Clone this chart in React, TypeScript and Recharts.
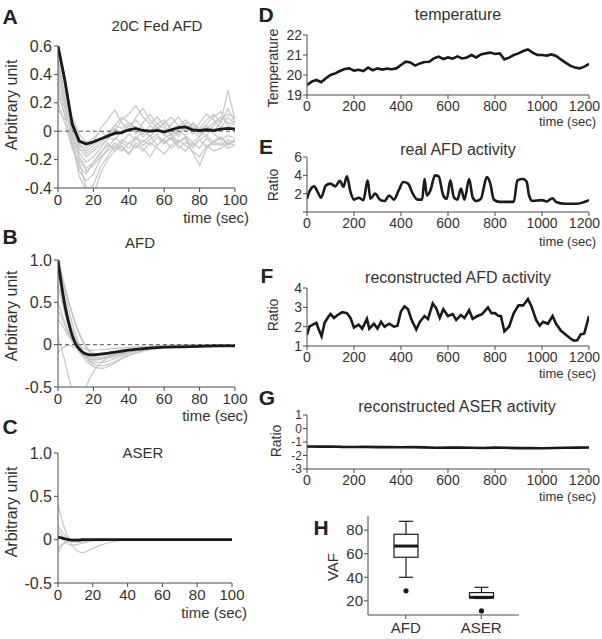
import React from "react";
import { LineChart, Line, XAxis, YAxis, ReferenceLine, ComposedChart, Bar } from "recharts";

// ---- panel A: 20C fed AFD kernels ----
const TIME_A = [0, 4, 8, 12, 16, 20, 24, 28, 32, 36, 40, 44, 48, 52, 56, 60, 64, 68, 72, 76, 80, 84, 88, 92, 96, 100];
const MEAN_A = [0.6, 0.35, 0.05, -0.07, -0.09, -0.075, -0.055, -0.035, -0.015, -0.01, 0.01, 0.02, 0.005, 0.0, 0.005, -0.005, 0.01, 0.025, 0.03, 0.01, 0.005, 0.01, 0.005, 0.015, 0.02, 0.015];
const GRAY_A = [
  [0.6, 0.38, 0.05, -0.1, -0.14, -0.1, -0.06, -0.02, 0.04, 0.02, 0.06, 0.03, -0.04, 0.0, 0.05, 0.02, -0.03, 0.01, 0.06, 0.02, -0.02, 0.04, 0.0, 0.06, 0.29, 0.08],
  [0.55, 0.3, 0.0, -0.18, -0.26, -0.22, -0.15, -0.1, -0.12, -0.06, -0.09, -0.04, -0.08, -0.03, -0.1, -0.05, -0.02, -0.08, -0.04, -0.12, -0.06, -0.03, -0.08, -0.05, -0.1, -0.07],
  [0.5, 0.25, -0.05, -0.28, -0.35, -0.3, -0.2, -0.12, -0.05, -0.08, -0.02, -0.06, 0.02, -0.04, 0.03, -0.02, -0.06, 0.0, -0.03, -0.08, -0.04, 0.02, -0.02, -0.06, -0.03, -0.05],
  [0.45, 0.2, 0.08, -0.05, -0.12, -0.08, 0.02, 0.08, 0.15, 0.06, 0.0, 0.1, 0.16, 0.08, 0.02, -0.03, 0.05, 0.1, 0.03, -0.02, 0.06, 0.12, 0.08, 0.02, 0.1, 0.05],
  [0.4, 0.18, -0.08, -0.32, -0.42, -0.38, -0.25, -0.18, -0.1, -0.14, -0.08, -0.12, -0.06, -0.1, -0.04, -0.09, -0.05, -0.12, -0.08, -0.1, -0.06, -0.11, -0.07, -0.04, -0.09, -0.06],
  [0.35, 0.15, 0.05, -0.15, -0.22, -0.18, -0.12, -0.05, 0.0, 0.08, 0.12, 0.18, 0.1, 0.05, 0.1, 0.04, -0.02, 0.03, 0.08, 0.03, 0.0, 0.05, 0.1, 0.14, 0.04, 0.02],
  [0.3, 0.1, -0.1, -0.25, -0.3, -0.22, -0.16, -0.08, -0.14, -0.1, -0.16, -0.08, -0.12, -0.18, -0.1, -0.06, -0.12, -0.08, -0.05, -0.15, -0.24, -0.12, -0.08, -0.1, -0.06, -0.08],
  [0.25, 0.12, 0.02, -0.08, -0.16, -0.12, -0.08, -0.04, -0.06, 0.0, 0.04, -0.02, 0.06, 0.12, 0.05, 0.08, 0.02, -0.04, 0.02, 0.05, 0.0, -0.03, 0.04, 0.08, 0.12, 0.1],
  [0.2, 0.05, -0.12, -0.22, -0.4, -0.45, -0.3, -0.2, -0.14, -0.08, -0.12, -0.05, -0.1, -0.06, -0.02, -0.08, -0.04, -0.1, -0.14, -0.08, -0.12, -0.05, -0.1, -0.08, -0.12, -0.1],
  [0.15, 0.08, 0.1, -0.02, -0.08, -0.05, 0.0, -0.04, 0.04, 0.1, 0.06, 0.02, -0.02, 0.04, 0.0, 0.06, 0.1, 0.04, 0.0, 0.06, 0.02, 0.08, 0.12, 0.06, 0.16, 0.06],
  [0.58, 0.32, -0.02, -0.2, -0.28, -0.24, -0.18, -0.14, -0.08, -0.12, -0.16, -0.1, -0.14, -0.08, -0.12, -0.16, -0.1, -0.06, -0.1, -0.14, -0.18, -0.1, -0.14, -0.12, -0.08, -0.1],
  [0.48, 0.22, 0.04, -0.12, -0.18, -0.14, -0.1, -0.06, 0.02, -0.02, 0.04, 0.08, 0.02, -0.04, 0.02, 0.06, 0.02, -0.02, 0.04, 0.0, -0.04, 0.02, 0.06, 0.1, 0.06, 0.04],
];

// ---- panels B and C: fitted AFD / ASER kernels ----
const TIME_BC = [0, 2, 4, 6, 8, 10, 12, 14, 16, 18, 20, 25, 30, 35, 40, 50, 60, 70, 80, 90, 100];
const MEAN_B = [1.0, 0.7, 0.45, 0.26, 0.11, 0.01, -0.05, -0.09, -0.11, -0.12, -0.12, -0.11, -0.095, -0.08, -0.065, -0.045, -0.03, -0.025, -0.02, -0.015, -0.015];
const GRAY_B = [
  [1.0, 0.7, 0.45, 0.27, 0.14, 0.05, -0.01, -0.04, -0.06, -0.065, -0.065, -0.06, -0.05, -0.04, -0.03, -0.02, -0.01, -0.005, 0, 0, 0],
  [1.0, 0.8, 0.6, 0.42, 0.26, 0.12, 0.01, -0.08, -0.15, -0.2, -0.23, -0.25, -0.22, -0.17, -0.12, -0.06, -0.03, -0.015, -0.01, 0, 0],
  [0.98, 0.75, 0.52, 0.34, 0.19, 0.07, -0.03, -0.1, -0.14, -0.17, -0.18, -0.17, -0.14, -0.11, -0.08, -0.04, -0.02, -0.01, 0, 0, 0],
  [0.95, 0.82, 0.66, 0.5, 0.36, 0.23, 0.12, 0.03, -0.04, -0.09, -0.13, -0.16, -0.15, -0.12, -0.09, -0.05, -0.025, -0.01, 0, 0, 0],
  [0.7, 0.52, 0.36, 0.22, 0.11, 0.02, -0.05, -0.1, -0.13, -0.15, -0.16, -0.15, -0.12, -0.09, -0.07, -0.04, -0.02, -0.01, 0, 0, 0],
  [0.5, 0.38, 0.26, 0.15, 0.06, -0.02, -0.08, -0.12, -0.15, -0.17, -0.18, -0.16, -0.13, -0.1, -0.07, -0.035, -0.02, -0.01, 0, 0, 0],
  [0.4, 0.32, 0.22, 0.12, 0.04, -0.03, -0.09, -0.14, -0.19, -0.23, -0.26, -0.28, -0.24, -0.18, -0.13, -0.07, -0.035, -0.015, -0.01, 0, 0],
  [0.3, 0.24, 0.17, 0.1, 0.04, -0.01, -0.05, -0.08, -0.1, -0.11, -0.12, -0.11, -0.09, -0.07, -0.05, -0.03, -0.015, -0.01, 0, 0, 0],
  [0.08, -0.05, -0.2, -0.38, -0.55, -0.7, -0.8, -0.7, -0.5, -0.4, -0.32, -0.2, -0.14, -0.1, -0.07, -0.04, -0.02, -0.01, 0, 0, 0],
  [-0.1, -0.05, -0.02, -0.01, -0.02, -0.04, -0.06, -0.08, -0.1, -0.11, -0.12, -0.12, -0.1, -0.08, -0.06, -0.035, -0.02, -0.01, 0, 0, 0],
  [1.0, 0.85, 0.68, 0.52, 0.38, 0.25, 0.14, 0.05, -0.02, -0.07, -0.1, -0.12, -0.11, -0.09, -0.07, -0.04, -0.02, -0.01, 0, 0, 0],
  [0.85, 0.62, 0.43, 0.27, 0.14, 0.04, -0.04, -0.1, -0.15, -0.19, -0.21, -0.21, -0.18, -0.14, -0.1, -0.05, -0.025, -0.01, 0, 0, 0],
  [0.9, 0.6, 0.38, 0.22, 0.1, 0.01, -0.06, -0.1, -0.12, -0.13, -0.13, -0.12, -0.1, -0.08, -0.06, -0.03, -0.015, -0.01, 0, 0, 0],
];
const MEAN_C = [0.03, 0.02, 0.01, 0.0, -0.005, -0.005, -0.005, 0, 0, 0, 0, 0, 0, 0, 0, 0, 0, 0, 0, 0, 0];
const GRAY_C = [
  [0.4, 0.25, 0.12, 0.02, -0.06, -0.11, -0.14, -0.15, -0.14, -0.12, -0.1, -0.06, -0.03, -0.01, 0, 0, 0, 0, 0, 0, 0],
  [0.15, 0.1, 0.05, 0.02, 0.0, -0.01, -0.02, -0.02, -0.015, -0.01, -0.01, 0, 0, 0, 0, 0, 0, 0, 0, 0, 0],
  [0.1, 0.06, 0.02, 0.0, -0.02, -0.03, -0.03, -0.02, -0.02, -0.01, -0.01, 0, 0, 0, 0, 0, 0, 0, 0, 0, 0],
  [-0.1, -0.06, -0.03, -0.01, 0.0, 0.01, 0.01, 0.01, 0, 0, 0, 0, 0, 0, 0, 0, 0, 0, 0, 0, 0],
  [-0.15, -0.08, -0.04, -0.02, -0.01, 0, 0, 0, 0, 0, 0, 0, 0, 0, 0, 0, 0, 0, 0, 0, 0],
  [0.05, 0.02, -0.02, -0.05, -0.06, -0.06, -0.05, -0.04, -0.03, -0.02, -0.015, -0.01, 0, 0, 0, 0, 0, 0, 0, 0, 0],
];

// ---- panel D: temperature ----
const TEMP_T = [0, 20, 40, 60, 80, 100, 120, 140, 160, 180, 200, 220, 240, 260, 280, 300, 320, 340, 360, 380, 400, 420, 440, 460, 480, 500, 520, 540, 560, 580, 600, 620, 640, 660, 680, 700, 720, 740, 760, 780, 800, 820, 840, 860, 880, 900, 920, 940, 960, 980, 1000, 1020, 1040, 1060, 1080, 1100, 1120, 1140, 1160, 1180, 1200];
const TEMP_V = [19.5, 19.67, 19.75, 19.64, 19.83, 20.0, 20.08, 20.2, 20.3, 20.33, 20.22, 20.26, 20.2, 20.37, 20.24, 20.33, 20.27, 20.32, 20.29, 20.33, 20.5, 20.67, 20.63, 20.47, 20.58, 20.65, 20.66, 20.83, 20.92, 20.8, 20.88, 20.82, 20.93, 20.83, 20.88, 21.0, 20.88, 21.03, 21.08, 21.12, 21.05, 21.08, 20.78, 20.87, 21.0, 21.08, 21.2, 21.28, 21.12, 21.0, 21.0, 20.97, 21.03, 20.95, 20.78, 20.62, 20.47, 20.37, 20.33, 20.42, 20.55];

// ---- panel E: real AFD activity ----
const REAL_T = [0, 10, 30, 45, 60, 80, 100, 120, 140, 155, 170, 185, 200, 220, 240, 258, 270, 290, 310, 330, 350, 370, 390, 410, 430, 450, 470, 490, 500, 510, 525, 545, 560, 580, 595, 610, 625, 640, 655, 670, 690, 705, 720, 740, 765, 780, 795, 820, 850, 880, 895, 920, 935, 945, 960, 1000, 1020, 1045, 1060, 1100, 1150, 1180, 1200];
const REAL_V = [1.45, 2.2, 2.8, 2.2, 1.56, 2.9, 3.1, 2.8, 3.4, 2.75, 3.9, 2.2, 1.35, 1.55, 1.3, 3.45, 1.45, 2.0, 1.35, 1.2, 1.8, 1.35, 2.35, 3.27, 3.1, 2.0, 1.35, 1.35, 3.6, 1.8, 2.35, 4.0, 3.9, 1.8, 1.45, 3.45, 1.6, 1.35, 2.55, 1.35, 3.6, 1.6, 1.2, 1.45, 3.8, 3.1, 1.35, 1.1, 1.1, 1.1, 3.45, 3.6, 3.27, 1.8, 1.2, 1.3, 1.15, 1.5, 1.1, 0.9, 0.9, 1.1, 1.3];

// ---- panel F: reconstructed AFD activity ----
const RECON_T = [0, 10, 25, 40, 50, 62, 75, 90, 100, 115, 130, 150, 170, 185, 200, 220, 235, 255, 265, 285, 300, 315, 330, 350, 370, 385, 400, 415, 430, 445, 465, 480, 500, 515, 535, 550, 565, 580, 600, 620, 635, 655, 670, 690, 705, 725, 745, 770, 785, 800, 815, 825, 840, 860, 880, 900, 920, 940, 955, 975, 990, 1005, 1025, 1045, 1060, 1080, 1100, 1120, 1135, 1150, 1165, 1180, 1200];
const RECON_V = [1.57, 2.0, 2.1, 2.2, 1.85, 1.5, 2.2, 2.5, 2.65, 2.45, 2.6, 2.75, 2.7, 2.45, 1.95, 2.1, 1.9, 2.4, 1.9, 2.15, 1.9, 2.25, 2.0, 2.15, 2.0, 2.05, 2.8, 3.05, 2.9, 2.35, 1.85, 2.25, 2.55, 2.4, 3.2, 2.95, 2.45, 2.9, 2.55, 2.65, 2.35, 2.6, 2.45, 2.85, 2.4, 2.55, 2.65, 3.0, 2.7, 2.7, 2.55, 2.55, 1.75, 2.0, 2.7, 3.1, 3.1, 3.43, 3.05, 2.35, 2.05, 2.25, 2.15, 2.55, 2.15, 1.8, 1.6, 1.4, 1.28, 1.3, 1.6, 1.65, 2.55];

// ---- panel G: reconstructed ASER activity ----
const ASER_T = [0, 50, 100, 150, 200, 250, 300, 350, 400, 450, 500, 550, 600, 650, 700, 750, 800, 850, 900, 950, 1000, 1050, 1100, 1150, 1200];
const ASER_V = [-1.33, -1.34, -1.33, -1.36, -1.37, -1.36, -1.38, -1.37, -1.39, -1.38, -1.4, -1.43, -1.42, -1.41, -1.43, -1.44, -1.42, -1.43, -1.45, -1.44, -1.46, -1.44, -1.43, -1.42, -1.41];

// ---- panel H: VAF box plot ----
const VAF_NAMES = ["AFD", "ASER"];
const VAF_LO = [40, 22];
const VAF_Q1 = [57, 22.5];
const VAF_MED = [66.5, 23];
const VAF_Q3 = [76.5, 27];
const VAF_HI = [87.5, 31.5];
const VAF_OUT = [28.5, 11.5];

const TICKS_SHORT = [0, 20, 40, 60, 80, 100];
const TICKS_LONG = [0, 200, 400, 600, 800, 1000, 1200];

const INK = "#333";
const AX = "#4a4a4a";
const GRAY = "#c6c6c6";
const BLACK = "#1a1a1a";
const FONT = '"Liberation Sans", Arial, Helvetica, sans-serif';

type Rect = { x0: number; y0: number; x1: number; y1: number };
const PT = 8;
const PR = 18;

function place(r: Rect, yw: number, xh: number) {
  return {
    left: r.x0 - yw,
    top: r.y0 - PT,
    width: yw + (r.x1 - r.x0) + PR,
    height: PT + (r.y1 - r.y0) + xh,
  };
}

const fmt1 = (v: number) => (v === 0 ? "0" : v.toFixed(1));

function table(time: number[], mean: number[], gray: number[][]) {
  return time.map((t, i) => {
    const row: Record<string, number> = { t, mean: mean[i] };
    gray.forEach((g, j) => (row["g" + j] = g[i]));
    return row;
  });
}

function series(time: number[], vals: number[]) {
  return time.map((t, i) => ({ t, v: vals[i] }));
}

// last label (1200) sits flush against the right edge, as in the figure
function LongTick(props: any) {
  const { x, y, payload } = props;
  const last = payload.value === 1200;
  return (
    <text x={last ? x + 11 : x} y={y} dy="0.71em" textAnchor={last ? "end" : "middle"} fontSize={14} fill={INK}>
      {payload.value}
    </text>
  );
}

function Kernel({ r, data, nGray, yDomain, yTicks, smooth, dashed }: {
  r: Rect; data: Record<string, number>[]; nGray: number; yDomain: [number, number];
  yTicks: number[]; smooth: boolean; dashed: boolean;
}) {
  const p = place(r, 58, 30);
  const kind = smooth ? "monotone" : "linear";
  return (
    <div style={{ position: "absolute", left: p.left, top: p.top }}>
      <LineChart width={p.width} height={p.height} data={data} margin={{ top: PT, right: PR, bottom: 0, left: 0 }}>
        <XAxis type="number" dataKey="t" domain={[0, 100]} ticks={TICKS_SHORT} interval={0} allowDataOverflow
          height={30} tickSize={4} tickMargin={2} tick={{ fontSize: 15, fill: INK }}
          axisLine={{ stroke: AX }} tickLine={{ stroke: AX }} />
        <YAxis type="number" domain={yDomain} ticks={yTicks} interval={0} allowDataOverflow width={58}
          tickSize={4} tickMargin={2} tickFormatter={fmt1} tick={{ fontSize: 16, fill: INK }}
          axisLine={{ stroke: AX }} tickLine={{ stroke: AX }} />
        {Array.from({ length: nGray }, (_, j) => (
          <Line key={j} type={kind} dataKey={"g" + j} stroke={GRAY} strokeWidth={1.2} dot={false} isAnimationActive={false} />
        ))}
        {dashed && <ReferenceLine y={0} stroke="#555" strokeDasharray="4 3" strokeWidth={1} />}
        <Line type={kind} dataKey="mean" stroke={BLACK} strokeWidth={2.8} dot={false} isAnimationActive={false} />
      </LineChart>
    </div>
  );
}

function Trace({ r, data, yDomain, yTicks, smooth, hideZero, yFont = 14 }: {
  r: Rect; data: { t: number; v: number }[]; yDomain: [number, number]; yTicks: number[];
  smooth: boolean; hideZero?: boolean; yFont?: number;
}) {
  const p = place(r, 40, 26);
  return (
    <div style={{ position: "absolute", left: p.left, top: p.top }}>
      <LineChart width={p.width} height={p.height} data={data} margin={{ top: PT, right: PR, bottom: 0, left: 0 }}>
        <XAxis type="number" dataKey="t" domain={[0, 1200]} ticks={TICKS_LONG} interval={0} allowDataOverflow
          height={26} tickSize={4} tickMargin={2} tick={<LongTick />}
          axisLine={{ stroke: AX }} tickLine={{ stroke: AX }} />
        <YAxis type="number" domain={yDomain} ticks={yTicks} interval={0} allowDataOverflow width={40}
          tickSize={4} tickMargin={1} tick={{ fontSize: yFont, fill: INK }}
          tickFormatter={(v: number) => (hideZero && v === 0 ? "" : String(v))}
          axisLine={{ stroke: AX }} tickLine={{ stroke: AX }} />
        <Line type={smooth ? "monotone" : "linear"} dataKey="v" stroke={BLACK} strokeWidth={2.6} dot={false} isAnimationActive={false} />
      </LineChart>
    </div>
  );
}

function BoxShape(props: any) {
  const { x, y, width, height, payload } = props;
  const top = Math.min(y, y + height);
  const h = Math.abs(height);
  const k = h / (payload.q3 - payload.q1);
  const py = (v: number) => top + (payload.q3 - v) * k;
  const cx = x + width / 2;
  const cap = 7;
  return (
    <g stroke={BLACK} fill="none">
      <line x1={cx} x2={cx} y1={py(payload.hi)} y2={top} strokeWidth={1.2} />
      <line x1={cx} x2={cx} y1={top + h} y2={py(payload.lo)} strokeWidth={1.2} />
      <line x1={cx - cap} x2={cx + cap} y1={py(payload.hi)} y2={py(payload.hi)} strokeWidth={1.2} />
      <line x1={cx - cap} x2={cx + cap} y1={py(payload.lo)} y2={py(payload.lo)} strokeWidth={1.2} />
      <rect x={x} y={top} width={width} height={h} fill="#fff" strokeWidth={1.2} />
      <line x1={x} x2={x + width} y1={py(payload.med)} y2={py(payload.med)} strokeWidth={3} />
      <circle cx={cx} cy={py(payload.out)} r={2.6} fill={BLACK} stroke="none" />
    </g>
  );
}

function Txt({ x, y, text, size = 16, bold = false, rot = false, right = false }: {
  x: number; y: number; text: string; size?: number; bold?: boolean; rot?: boolean; right?: boolean;
}) {
  return (
    <div style={{
      position: "absolute", left: x, top: y, whiteSpace: "nowrap", lineHeight: 1,
      fontSize: size, fontWeight: bold ? 700 : 400, color: bold ? "#222" : INK,
      transform: `translate(${right ? "-100%" : "-50%"},-50%)${rot ? " rotate(-90deg)" : ""}`,
    }}>{text}</div>
  );
}

export default function App() {
  const rowsA = table(TIME_A, MEAN_A, GRAY_A);
  const rowsB = table(TIME_BC, MEAN_B, GRAY_B);
  const rowsC = table(TIME_BC, MEAN_C, GRAY_C);
  const boxes = VAF_NAMES.map((name, i) => ({
    name, lo: VAF_LO[i], q1: VAF_Q1[i], med: VAF_MED[i], q3: VAF_Q3[i], hi: VAF_HI[i], out: VAF_OUT[i],
  }));
  const rH: Rect = { x0: 368, y0: 516, x1: 519, y1: 615 };
  const pH = place(rH, 40, 28);

  return (
    <div style={{ position: "absolute", left: 0, top: 0, width: 602, height: 639, background: "#fff", fontFamily: FONT, overflow: "hidden" }}>
      <Kernel r={{ x0: 58, y0: 46, x1: 235, y1: 188 }} data={rowsA} nGray={GRAY_A.length}
        yDomain={[-0.4, 0.6]} yTicks={[-0.4, -0.2, 0, 0.2, 0.4, 0.6]} smooth={false} dashed />
      <Kernel r={{ x0: 58, y0: 260, x1: 235, y1: 387 }} data={rowsB} nGray={GRAY_B.length}
        yDomain={[-0.5, 1]} yTicks={[-0.5, 0, 0.5, 1]} smooth dashed />
      <Kernel r={{ x0: 58, y0: 453, x1: 232, y1: 583 }} data={rowsC} nGray={GRAY_C.length}
        yDomain={[-0.5, 1]} yTicks={[-0.5, 0, 0.5, 1]} smooth dashed={false} />

      <Trace r={{ x0: 307, y0: 35, x1: 589, y1: 95 }} data={series(TEMP_T, TEMP_V)} yDomain={[19, 22]} yTicks={[19, 20, 21, 22]} smooth={false} />
      <Trace r={{ x0: 307, y0: 157, x1: 589, y1: 212 }} data={series(REAL_T, REAL_V)} yDomain={[0, 6]} yTicks={[0, 2, 4, 6]} smooth hideZero />
      <Trace r={{ x0: 307, y0: 288, x1: 589, y1: 346 }} data={series(RECON_T, RECON_V)} yDomain={[1, 4]} yTicks={[1, 2, 3, 4]} smooth={false} />
      <Trace r={{ x0: 307, y0: 415, x1: 589, y1: 469 }} data={series(ASER_T, ASER_V)} yDomain={[-3, 1]} yTicks={[-3, -2, -1, 0, 1]} smooth={false} yFont={12} />

      <div style={{ position: "absolute", left: pH.left, top: pH.top }}>
        <ComposedChart width={pH.width} height={pH.height} data={boxes} margin={{ top: PT, right: PR, bottom: 0, left: 0 }}>
          <XAxis type="category" dataKey="name" height={28} tickSize={4} tickMargin={3}
            tick={{ fontSize: 15, fill: INK }} axisLine={{ stroke: AX }} tickLine={{ stroke: AX }} />
          <YAxis type="number" domain={[8, 92]} ticks={[20, 40, 60, 80]} interval={0} allowDataOverflow width={40}
            tickSize={4} tickMargin={1} tick={{ fontSize: 15, fill: INK }} axisLine={{ stroke: AX }} tickLine={{ stroke: AX }} />
          <Bar dataKey={(d: any) => [d.q1, d.q3]} barSize={24} shape={BoxShape} isAnimationActive={false} />
        </ComposedChart>
      </div>

      {/* panel letters */}
      <Txt x={10} y={16} text="A" size={21} bold />
      <Txt x={10} y={236} text="B" size={21} bold />
      <Txt x={10} y={426} text="C" size={21} bold />
      <Txt x={266} y={14} text="D" size={21} bold />
      <Txt x={266} y={146} text="E" size={21} bold />
      <Txt x={267} y={275} text="F" size={21} bold />
      <Txt x={267} y={397} text="G" size={21} bold />
      <Txt x={321} y={527} text="H" size={21} bold />

      {/* titles */}
      <Txt x={157} y={25} text="20C Fed AFD" size={15} />
      <Txt x={140} y={242} text="AFD" size={15} />
      <Txt x={143} y={452} text="ASER" size={15} />
      <Txt x={458} y={15} text="temperature" size={16} />
      <Txt x={458} y={150} text="real AFD activity" size={16} />
      <Txt x={458} y={278} text="reconstructed AFD activity" size={16} />
      <Txt x={457} y={407} text="reconstructed ASER activity" size={16} />

      {/* axis labels */}
      <Txt x={12} y={105} text="Arbitrary unit" size={16} rot />
      <Txt x={12} y={316} text="Arbitrary unit" size={16} rot />
      <Txt x={12} y={512} text="Arbitrary unit" size={16} rot />
      <Txt x={273} y={68} text="Temperature" size={14} rot />
      <Txt x={273} y={185} text="Ratio" size={14} rot />
      <Txt x={273} y={315} text="Ratio" size={14} rot />
      <Txt x={276} y={441} text="Ratio" size={14} rot />
      <Txt x={332} y={567} text="VAF" size={15} rot />

      <Txt x={249} y={217} text="time (sec)" size={15} right />
      <Txt x={248} y={415} text="time (sec)" size={15} right />
      <Txt x={247} y={612} text="time (sec)" size={15} right />
      <Txt x={596} y={121} text="time (sec)" size={13} right />
      <Txt x={596} y={241} text="time (sec)" size={13} right />
      <Txt x={596} y={373} text="time (sec)" size={13} right />
      <Txt x={596} y={496} text="time (sec)" size={13} right />
    </div>
  );
}
